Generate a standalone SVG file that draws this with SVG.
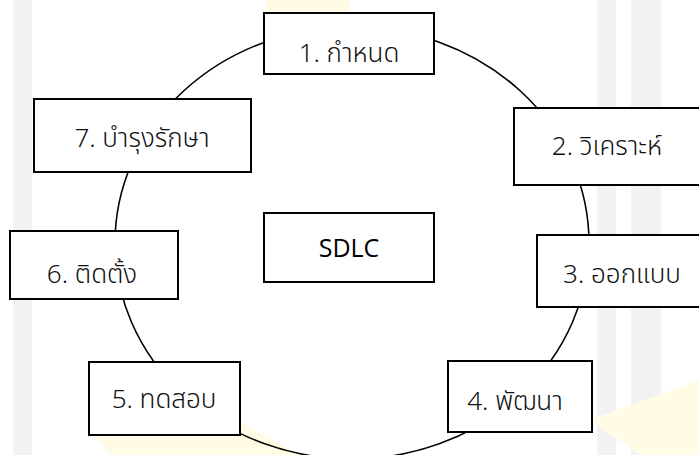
<svg xmlns="http://www.w3.org/2000/svg" width="699" height="455" viewBox="0 0 699 455">
  <style>
    .box { fill: #ffffff; stroke: #000000; stroke-width: 2; }
    .lbl { font-family: "Noto Sans Thai", "Noto Sans", "DejaVu Sans", sans-serif; font-size: 26px; font-weight: 300; fill: #111111; text-anchor: middle; }
    .title { font-family: "Open Sans", "Noto Sans", sans-serif; font-size: 25px; font-weight: 500; fill: #000000; text-anchor: middle; }
    .ring { fill: none; stroke: #000000; stroke-width: 1.6; }
    .wm { fill: #f2f2f2; }
    .wmy { fill: #fffbe5; }
  </style>
  <g id="watermark">
    <rect class="wm" x="13" y="0" width="19" height="455"/>
    <rect class="wm" x="597" y="0" width="19" height="455"/>
    <rect class="wm" x="631" y="0" width="30" height="455"/>
    <rect class="wmy" x="267" y="0" width="82" height="14"/>
    <polygon class="wmy" points="90,430 200,400 300,455 110,455"/>
    <polygon class="wmy" points="590,420 700,380 699,455 640,455"/>
  </g>
  <g id="connectors">
    <ellipse class="ring" cx="352" cy="243" rx="237" ry="216"/>
  </g>
  <g id="node-sdlc">
    <rect class="box" x="264" y="213" width="170" height="69"/>
    <text class="title" x="349" y="257">SDLC</text>
  </g>
  <g id="node-1">
    <rect class="box" x="264" y="13" width="170" height="61"/>
    <text class="lbl" x="349" y="62">1. กำหนด</text>
  </g>
  <g id="node-2">
    <rect class="box" x="514" y="108" width="191" height="77"/>
    <text class="lbl" x="607" y="155">2. วิเคราะห์</text>
  </g>
  <g id="node-3">
    <rect class="box" x="537" y="235" width="173" height="72"/>
    <text class="lbl" x="622" y="283">3. ออกแบบ</text>
  </g>
  <g id="node-4">
    <rect class="box" x="448" y="361" width="144" height="71"/>
    <text class="lbl" x="515" y="410">4. พัฒนา</text>
  </g>
  <g id="node-5">
    <rect class="box" x="89" y="362" width="151" height="73"/>
    <text class="lbl" x="164" y="408">5. ทดสอบ</text>
  </g>
  <g id="node-6">
    <rect class="box" x="10" y="231" width="168" height="68"/>
    <text class="lbl" x="92" y="283">6. ติดตั้ง</text>
  </g>
  <g id="node-7">
    <rect class="box" x="34" y="99" width="217" height="73"/>
    <text class="lbl" x="142" y="147">7. บำรุงรักษา</text>
  </g>
</svg>
